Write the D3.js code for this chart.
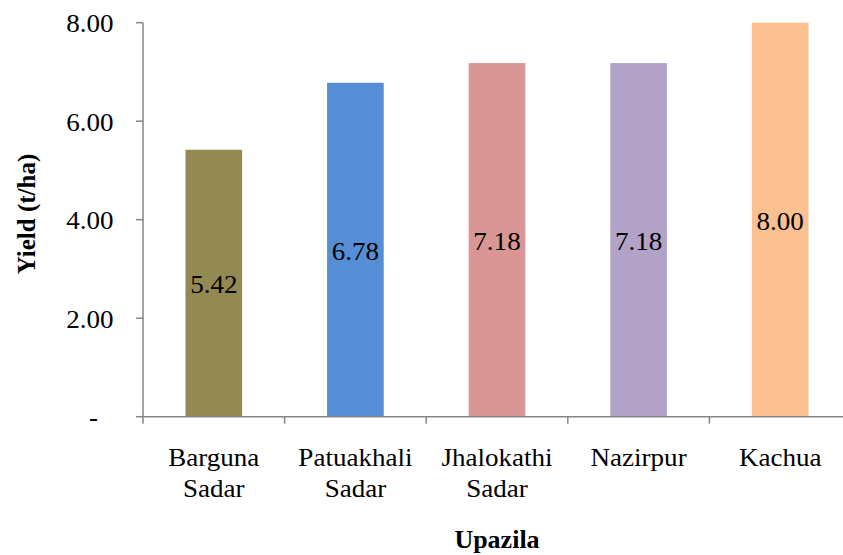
<!DOCTYPE html>
<html><head><meta charset="utf-8">
<script src="https://cdn.jsdelivr.net/npm/d3@7"></script>
<style>
body{margin:0;background:#fff;}
</style></head>
<body><svg id="c" width="843" height="555"></svg>
<script>
const categories = [["Barguna","Sadar"],["Patuakhali","Sadar"],["Jhalokathi","Sadar"],["Nazirpur"],["Kachua"]];
const values = [5.42, 6.78, 7.18, 7.18, 8.00];
const colors = ["#938953","#558ED5","#D99694","#B3A2C7","#FAC090"];
const yTicks = [0, 2, 4, 6, 8];
const yTickLabels = ["-", "2.00", "4.00", "6.00", "8.00"];

const FONT = "'Liberation Serif', 'Times New Roman', Times, serif";
const svg = d3.select("#c");
const pL = 143, pR = 851, pT = 22.7, pB = 416.7;
const keys = categories.map(c => c.join(" "));
const x = d3.scaleBand().domain(keys).range([pL, pR]).paddingInner(0.6).paddingOuter(0.3);
const y = d3.scaleLinear().domain([0, 8]).range([pB, pT]);
const axisColor = "#868686";
const SX = 1.04;

function txt(sel, size, weight) {
  return sel.style("font-family", FONT).style("font-size", size + "px")
    .style("font-weight", weight || "normal").style("fill", "#000");
}

// bars
svg.selectAll("rect.bar").data(values).enter().append("rect")
  .attr("x", (d,i) => x(keys[i]))
  .attr("width", x.bandwidth())
  .attr("y", d => y(d))
  .attr("height", d => y(0) - y(d))
  .attr("fill", (d,i) => colors[i]);

// value labels
txt(svg.selectAll("text.val").data(values).enter().append("text")
  .attr("transform", (d,i) => `translate(${x(keys[i]) + x.bandwidth()/2},${(y(d) + y(0))/2 + 10}) scale(${SX},1)`)
  .attr("text-anchor", "middle")
  .text(d => d.toFixed(2)), 26);

// y axis
const gy = svg.append("g");
gy.append("line").attr("x1", pL).attr("x2", pL).attr("y1", pT).attr("y2", pB).attr("stroke", axisColor).attr("stroke-width", 1.5);
gy.selectAll("line.t").data(yTicks).enter().append("line")
  .attr("x1", pL - 7).attr("x2", pL).attr("y1", d => y(d)).attr("y2", d => y(d))
  .attr("stroke", axisColor).attr("stroke-width", 1.5);
txt(gy.selectAll("text.t").data(yTicks).enter().append("text")
  .attr("transform", (d,i) => `translate(${i === 0 ? 98 : 113.5},${y(d) + 9.6}) scale(${SX},1)`)
  .attr("text-anchor", "end")
  .text((d,i) => yTickLabels[i]), 26);

// x axis
const gx = svg.append("g");
gx.append("line").attr("x1", pL).attr("x2", pR).attr("y1", pB).attr("y2", pB).attr("stroke", axisColor).attr("stroke-width", 1.5);
const bounds = d3.range(keys.length + 1).map(i => pL + i * (pR - pL) / keys.length);
gx.selectAll("line.t").data(bounds).enter().append("line")
  .attr("x1", d => d).attr("x2", d => d).attr("y1", pB).attr("y2", pB + 7)
  .attr("stroke", axisColor).attr("stroke-width", 1.5);
categories.forEach((c, i) => {
  const cx = x(keys[i]) + x.bandwidth()/2;
  const t = txt(svg.append("text")
    .attr("transform", `translate(${cx},465.7) scale(${SX},1)`)
    .attr("text-anchor", "middle"), 26);
  c.forEach((line, j) => {
    t.append("tspan").attr("x", 0).attr("dy", j === 0 ? 0 : 31.3).text(line);
  });
});

// titles
txt(svg.append("text").attr("x", (pL + pR)/2).attr("y", 548).attr("text-anchor", "middle")
  .text("Upazila"), 26, "bold");
txt(svg.append("text").attr("transform", `translate(35,214) rotate(-90)`)
  .attr("text-anchor", "middle").text("Yield (t/ha)"), 25, "bold");
</script></body></html>
